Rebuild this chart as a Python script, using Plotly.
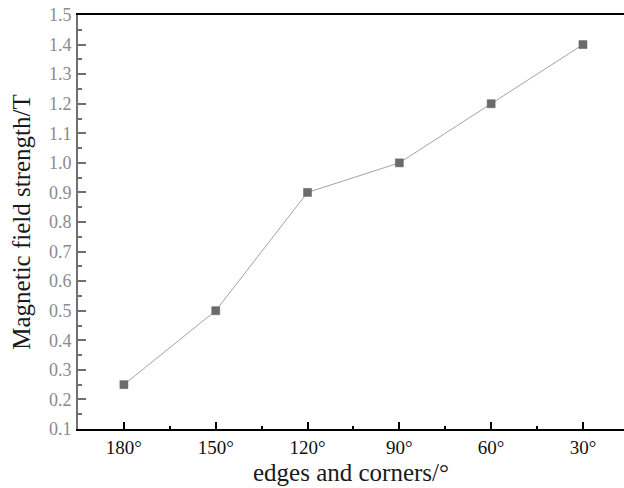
import plotly.graph_objects as go

# Corner angle categories and the measured field strength at each
angles = ["180°", "150°", "120°", "90°", "60°", "30°"]
field_t = [0.25, 0.5, 0.9, 1.0, 1.2, 1.4]
y_ticks = [0.1, 0.2, 0.3, 0.4, 0.5, 0.6, 0.7, 0.8, 0.9, 1.0, 1.1, 1.2, 1.3, 1.4, 1.5]

x_pos = list(range(len(angles)))

fig = go.Figure()
fig.add_trace(go.Scatter(
    x=x_pos,
    y=field_t,
    mode="lines+markers",
    line=dict(color="#a3a3a3", width=1),
    marker=dict(symbol="square", size=8, color="#6b6b6b",
                line=dict(color="#5f5f5f", width=0.5)),
    showlegend=False,
))

serif = "Liberation Serif, Times New Roman, serif"
title_font = dict(family=serif, size=25, color="#1a1a1a")

fig.update_xaxes(
    range=[-0.5, 5.447],
    tickvals=x_pos,
    ticktext=angles,
    ticks="inside",
    ticklen=7,
    tickwidth=2,
    tickcolor="#000000",
    minor=dict(ticks="inside", dtick=0.5, tick0=0, ticklen=3, tickwidth=2, tickcolor="#000000"),
    showline=True,
    linecolor="#000000",
    linewidth=2,
    mirror=True,
    showgrid=False,
    zeroline=False,
    automargin=False,
    ticklabelstandoff=0,
    tickfont=dict(family=serif, size=19, color="#111111"),
    title=dict(text="edges and corners/°", font=title_font, standoff=7),
)

fig.update_yaxes(
    range=[0.1, 1.5],
    tickvals=y_ticks,
    ticktext=[f"{v:.1f}" for v in y_ticks],
    ticks="inside",
    ticklen=8,
    tickwidth=2,
    tickcolor="#707070",
    minor=dict(ticks="inside", dtick=0.05, tick0=0.1, ticklen=4, tickwidth=2, tickcolor="#707070"),
    showline=True,
    linecolor="#707070",
    linewidth=2,
    mirror=False,
    showgrid=False,
    zeroline=False,
    automargin=False,
    ticklabelstandoff=1,
    tickfont=dict(family=serif, size=18, color="#8a8a8a"),
    title=dict(text="Magnetic field strength/T", font=title_font, standoff=11),
)

fig.update_layout(
    width=624,
    height=488,
    margin=dict(l=78, r=0, t=15, b=59),
    plot_bgcolor="#ffffff",
    paper_bgcolor="#ffffff",
)

fig.write_html("out.html")
